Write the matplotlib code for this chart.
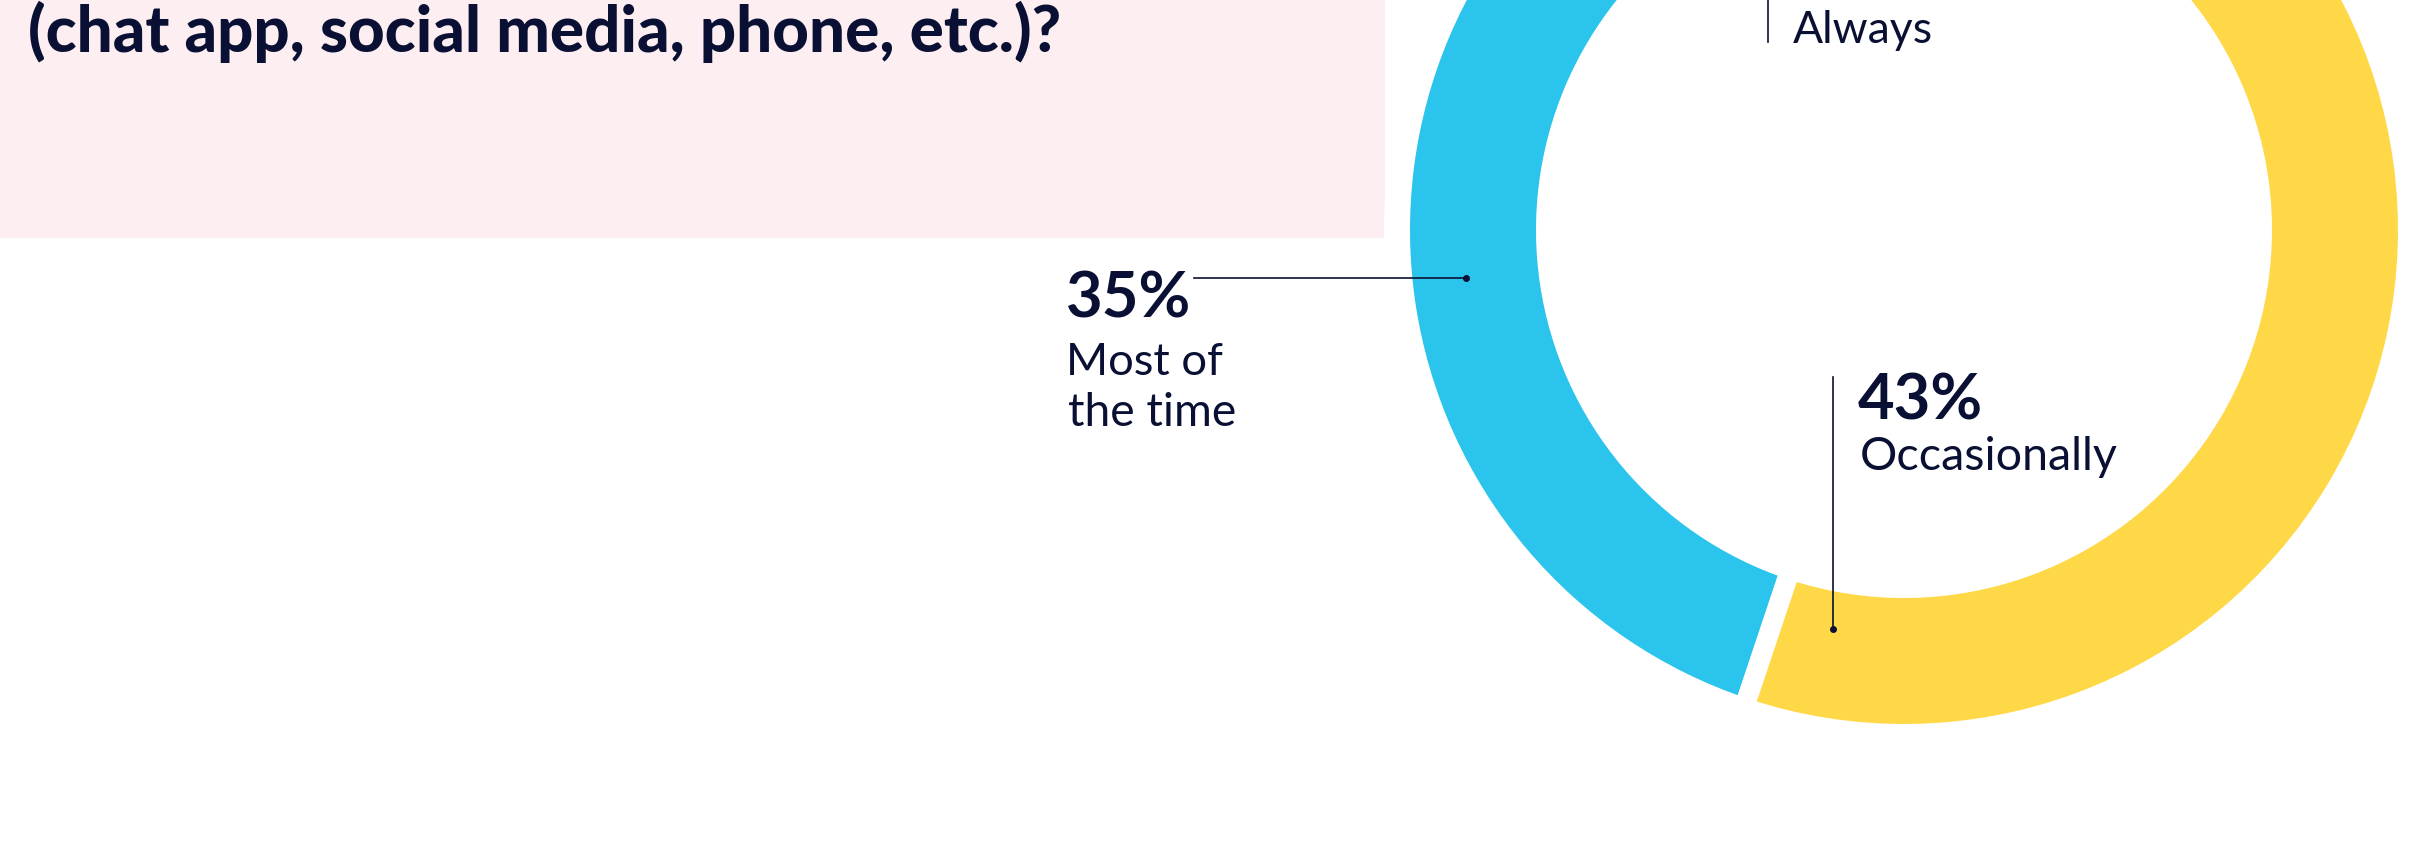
import matplotlib
matplotlib.use('Agg')
import matplotlib.pyplot as plt
from matplotlib.patches import Rectangle, Circle

# ---- data ----
categories = ['Always', 'Most of the time', 'Occasionally']
values = [22, 35, 43]
title_line = '(chat app, social media, phone, etc.)?'

# ---- style ----
colors = ['#F7A8BC', '#2BC4EC', '#FFD847']
NAVY = '#0A1033'
PINK = '#FDEEF1'
FONT = ['Lato', 'DejaVu Sans']

W, H = 2422, 843
fig = plt.figure(figsize=(W / 100, H / 100), dpi=100)
ax = fig.add_axes([0, 0, 1, 1])


def Y(y):
    return H - y


cx, cy = 1904, 230
R_out, R_in = 494, 368
gap_px = 20
gap_pt = gap_px * 72 / 100

# pink title panel and white halo round the donut
ax.add_patch(Rectangle((0, Y(238)), 1385, 238, color=PINK, zorder=0, lw=0))
ax.add_patch(Circle((cx, Y(cy)), 520, color='white', zorder=1, lw=0))

wedges, _ = ax.pie(values, colors=colors, startangle=46.3, counterclock=True,
                   radius=R_out + gap_px / 2, center=(cx, Y(cy)),
                   wedgeprops=dict(width=(R_out - R_in) + gap_px,
                                   edgecolor='white', linewidth=gap_pt),
                   frame=True)
for w in wedges:
    w.set_zorder(2)

ax.set_xlim(0, W)
ax.set_ylim(0, H)
ax.set_aspect('auto')
ax.axis('off')

renderer = fig.canvas.get_renderer()


def fit_text(x, yb, s, target_w, **kw):
    t = ax.text(x, Y(yb), s, fontsize=40, va='baseline', ha='left',
                color=NAVY, family=FONT, zorder=5, **kw)
    w = t.get_window_extent(renderer).width
    t.set_fontsize(40 * target_w / w)
    return t


fit_text(28, 52, title_line, 1031, fontweight='black')

pct = {c: f'{v}%' for c, v in zip(categories, values)}

# Most of the time
fit_text(1066, 317, pct['Most of the time'], 125, fontweight='bold')
fit_text(1066, 375, 'Most of', 157)
fit_text(1068, 426, 'the time', 168)
ax.plot([1194, 1466], [Y(278), Y(278)], color=NAVY, lw=1.2, zorder=6)
ax.plot([1466], [Y(278)], 'o', color=NAVY, ms=4, zorder=6)

# Occasionally
fit_text(1858, 419, pct['Occasionally'], 125, fontweight='bold')
fit_text(1860, 470, 'Occasionally', 258)
ax.plot([1833, 1833], [Y(377), Y(629)], color=NAVY, lw=1.2, zorder=6)
ax.plot([1833], [Y(629)], 'o', color=NAVY, ms=4, zorder=6)

# Always (its percentage sits above the visible frame)
fit_text(1793, 43, 'Always', 140)
ax.plot([1768, 1768], [Y(-40), Y(42)], color=NAVY, lw=1.2, zorder=6)

fig.savefig('out.png', dpi=100, facecolor='white')
